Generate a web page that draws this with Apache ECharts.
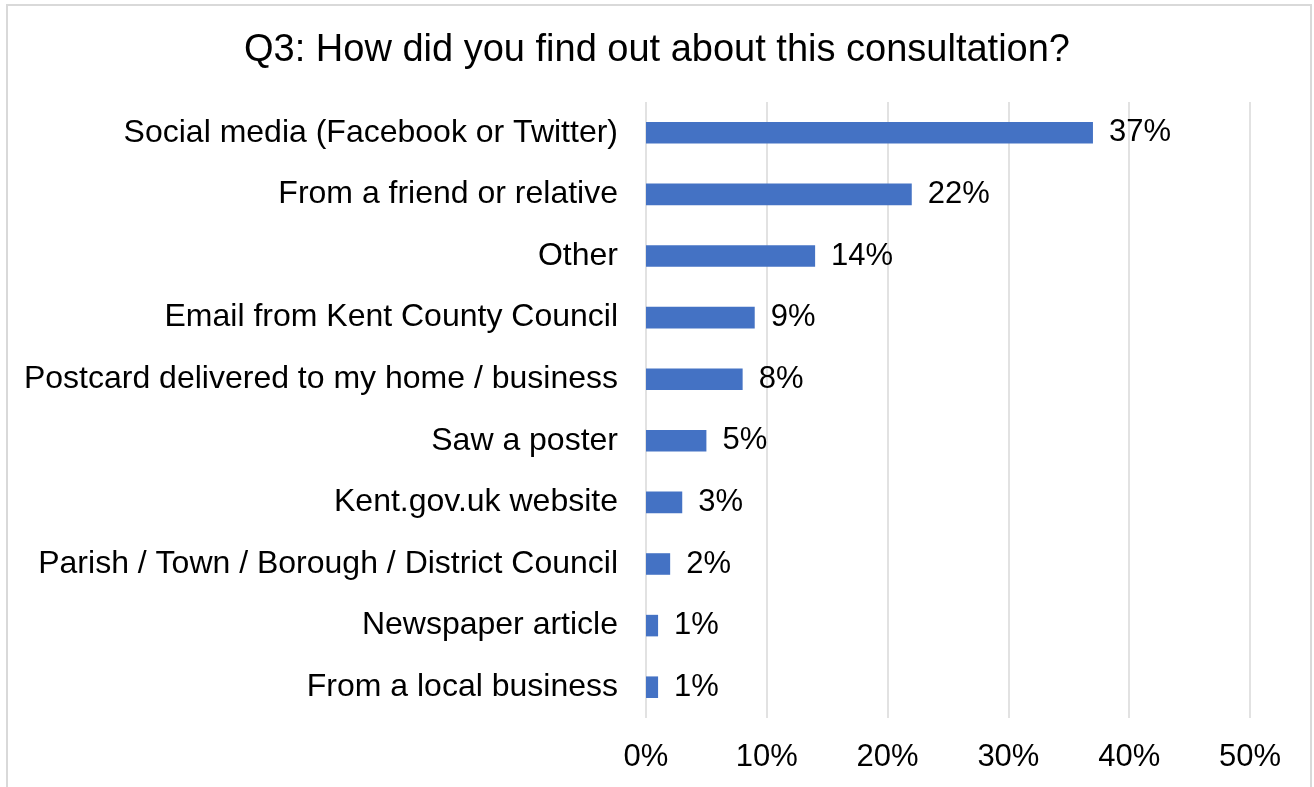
<!DOCTYPE html>
<html>
<head>
<meta charset="utf-8">
<style>
  html, body { margin: 0; padding: 0; background: #ffffff; }
  #chart { width: 1314px; height: 787px; }
</style>
<script src="https://cdn.jsdelivr.net/npm/echarts@6/dist/echarts.min.js"></script>
</head>
<body>
<div id="chart"></div>
<script>
// Survey answers, listed top to bottom
const categories = [
  'Social media (Facebook or Twitter)',
  'From a friend or relative',
  'Other',
  'Email from Kent County Council',
  'Postcard delivered to my home / business',
  'Saw a poster',
  'Kent.gov.uk website',
  'Parish / Town / Borough / District Council',
  'Newspaper article',
  'From a local business'
];
// Share of respondents (%)
const shares = [37, 22, 14, 9, 8, 5, 3, 2, 1, 1];
// Value axis range and step (%)
const axisMin = 0;
const axisMax = 50;
const axisStep = 10;

const FONT = '"Liberation Sans", Arial, sans-serif';

const chart = echarts.init(document.getElementById('chart'), null, { renderer: 'canvas' });

chart.setOption({
  backgroundColor: '#ffffff',
  animation: false,
  title: {
    text: 'Q3: How did you find out about this consultation?',
    left: 'center',
    top: 27,
    textStyle: { fontFamily: FONT, fontSize: 38, fontWeight: 'normal', color: '#000000' }
  },
  graphic: [{
    type: 'rect',
    shape: { x: 7, y: 5, width: 1304, height: 800 },
    style: { fill: 'none', stroke: '#d9d9d9', lineWidth: 2 },
    silent: true
  }],
  grid: { left: 646, right: 64, top: 102, bottom: 69, containLabel: false },
  xAxis: {
    type: 'value',
    min: axisMin,
    max: axisMax,
    interval: axisStep,
    axisLine: { show: false },
    axisTick: { show: false },
    axisLabel: {
      formatter: '{value}%',
      fontFamily: FONT, fontSize: 31, color: '#000000', margin: 24
    },
    splitLine: { show: true, lineStyle: { color: '#d9d9d9', width: 1.5 } }
  },
  yAxis: {
    type: 'category',
    data: categories,
    inverse: true,
    axisLine: { show: false },
    axisTick: { show: false },
    axisLabel: { fontFamily: FONT, fontSize: 32, color: '#000000', margin: 28, padding: [4, 0, 0, 0] }
  },
  series: [{
    type: 'bar',
    data: shares,
    barCategoryGap: '65%',
    itemStyle: { color: '#4472c4' },
    label: {
      show: true,
      position: 'right',
      distance: 16,
      formatter: '{c}%',
      padding: [4, 0, 0, 0],
      fontFamily: FONT, fontSize: 31, color: '#000000'
    }
  }]
});
</script>
</body>
</html>
